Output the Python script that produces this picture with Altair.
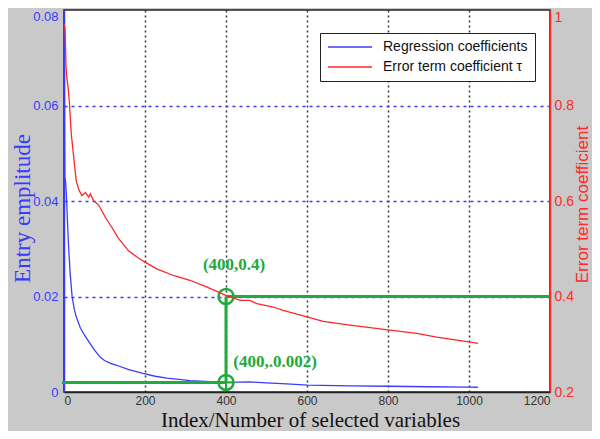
import altair as alt
import pandas as pd

# ---- data ----
reg_idx = [0, 1, 2, 4, 6, 8, 11, 15, 20, 25, 30, 40, 50, 64, 75, 89, 100, 115, 130, 160,
           195, 225, 254, 290, 311, 350, 400, 459, 500, 550, 602, 706, 800, 900, 1000, 1022]
reg_val = [0.077, 0.068, 0.045, 0.044, 0.041, 0.037, 0.031, 0.025, 0.020, 0.0175, 0.0158,
           0.0135, 0.012, 0.0102, 0.0088, 0.0073, 0.0066, 0.006, 0.0056, 0.0047, 0.0039,
           0.0033, 0.0029, 0.0026, 0.0024, 0.0022, 0.002, 0.0021, 0.0019, 0.0017, 0.00146,
           0.0013, 0.0012, 0.0011, 0.001, 0.001]

err_idx = [0, 2, 3, 5, 7, 10, 13, 18, 24, 30, 36, 44, 53, 61, 65, 73, 86, 102, 118, 135,
           160, 188, 200, 229, 270, 311, 352, 398, 435, 459, 476, 517, 541, 602, 640, 706,
           800, 871, 920, 1000, 1022]
err_val = [0.97, 0.965, 0.949, 0.88, 0.859, 0.838, 0.81, 0.74, 0.692, 0.643, 0.625, 0.611,
           0.618, 0.608, 0.615, 0.601, 0.591, 0.566, 0.545, 0.521, 0.495, 0.478, 0.472,
           0.458, 0.444, 0.434, 0.42, 0.403, 0.392, 0.392, 0.385, 0.378, 0.371, 0.357,
           0.348, 0.34, 0.33, 0.323, 0.315, 0.305, 0.302]

series_names = ["Regression coefficients", "Error term coefficient \u03c4"]
series_colors = ["#3c3cff", "#ff2626"]

x_ticks = [0, 200, 400, 600, 800, 1000, 1200]
left_ticks = [0, 0.02, 0.04, 0.06, 0.08]
right_ticks = [0.2, 0.4, 0.6, 0.8, 1]

# annotation (green) values
mark_x = 400
mark_low = 0.002
mark_high = 0.02
ann_text = ["(400,0.4)", "(400,.0.002)"]
ann_x = [420, 521]
ann_y = [0.0265, 0.0062]

BLUE = "#3a3aff"
RED = "#ff2a2a"
GREEN = "#22aa3a"

reg_df = pd.DataFrame({"idx": reg_idx, "v": reg_val, "series": series_names[0]})
err_df = pd.DataFrame({"idx": err_idx, "r": err_val, "series": series_names[1]})

x_scale = alt.Scale(domain=[0, 1200], nice=False, zero=False)
y_left_scale = alt.Scale(domain=[0, 0.08], nice=False)

x_axis = alt.Axis(
    values=x_ticks, format="d", title="Index/Number of selected variables",
    titleFont="Liberation Serif", titleFontSize=21, titleFontWeight="normal",
    titleColor="#111111", titleX=246, titleY=34, titleBaseline="alphabetic",
    labelFont="Liberation Sans", labelFontSize=12, labelColor="#333333",
    labelPadding=3, ticks=False, domainColor="#222222", domainWidth=1.5,
    grid=True, gridColor="#222222", gridDash=[2, 3], gridWidth=1.5,
    gridOpacity=alt.condition("datum.value < 1 || datum.value > 1199", alt.value(0), alt.value(0.9)),
)

y_left_axis = alt.Axis(
    values=left_ticks, format="~g", title="Entry emplitude",
    titleFont="Liberation Serif", titleFontSize=23, titleFontWeight="normal",
    titleColor=BLUE, titleAngle=270, titleX=-35, titleY=198, titleBaseline="alphabetic",
    labelFont="Liberation Sans", labelFontSize=13, labelColor=BLUE, labelPadding=6,
    labelBaseline=alt.condition("datum.value > 0.07", alt.value("top"), alt.value("middle")),
    ticks=False, domainColor=BLUE, domainWidth=1.5,
    grid=True, gridColor=BLUE, gridDash=[3, 4], gridWidth=1.5,
    gridOpacity=alt.condition("datum.value < 0.01 || datum.value > 0.07", alt.value(0), alt.value(1)),
)

y_right_axis = alt.Axis(
    orient="right", values=right_ticks, format="~g", title="Error term coefficient",
    titleFont="Liberation Sans", titleFontSize=17, titleFontWeight="normal",
    titleColor=RED, titleAngle=270, titleX=37, titleY=194, titleBaseline="alphabetic",
    labelFont="Liberation Sans", labelFontSize=14, labelColor=RED, labelPadding=4,
    labelBaseline=alt.condition("datum.value > 0.99", alt.value("top"), alt.value("middle")),
    ticks=False, domainColor=RED, domainWidth=1.5, grid=False,
)

color_enc = alt.Color(
    "series:N",
    scale=alt.Scale(domain=series_names, range=series_colors),
    title=None,
    legend=alt.Legend(
        orient="none", legendX=256, legendY=23, direction="vertical",
        fillColor="white", strokeColor="#222222", padding=7,
        symbolType="stroke", symbolSize=1936, symbolStrokeWidth=1.5,
        labelFont="Liberation Sans", labelFontSize=14, labelColor="#111111",
        labelOffset=10, rowPadding=6, clipHeight=14,
    ),
)

X = alt.X("idx:Q", scale=x_scale, axis=x_axis)

blue_line = alt.Chart(reg_df).mark_line(strokeWidth=1.3, clip=False).encode(
    x=X, y=alt.Y("v:Q", scale=y_left_scale, axis=y_left_axis), color=color_enc
)

ann_df = pd.DataFrame({
    "x1": [-5, mark_x, mark_x],
    "x2": [mark_x, mark_x, 1200],
    "y1": [mark_low, mark_low, mark_high],
    "y2": [mark_low, mark_high, mark_high],
})
green_rules = alt.Chart(ann_df).mark_rule(color=GREEN, strokeWidth=3).encode(
    x=alt.X("x1:Q", scale=x_scale, axis=x_axis), x2="x2:Q",
    y=alt.Y("y1:Q", scale=y_left_scale, axis=y_left_axis), y2="y2:Q",
)

pt_df = pd.DataFrame({"px": [mark_x, mark_x], "py": [mark_high, mark_low]})
green_circles = alt.Chart(pt_df).mark_point(
    shape="circle", size=225, filled=False, stroke=GREEN, strokeWidth=2.5, opacity=1
).encode(
    x=alt.X("px:Q", scale=x_scale, axis=x_axis),
    y=alt.Y("py:Q", scale=y_left_scale, axis=y_left_axis),
)
cross_df = pd.DataFrame({"px": [mark_x], "py": [mark_low]})
green_cross = alt.Chart(cross_df).mark_point(
    shape="M-1,0H1M0,-1V1", size=225, filled=False, stroke=GREEN, strokeWidth=2, opacity=1
).encode(
    x=alt.X("px:Q", scale=x_scale, axis=x_axis),
    y=alt.Y("py:Q", scale=y_left_scale, axis=y_left_axis),
)

txt_df = pd.DataFrame({"tx": ann_x, "ty": ann_y, "t": ann_text})
green_text = alt.Chart(txt_df).mark_text(
    font="Liberation Serif", fontSize=17, fontWeight="bold", color=GREEN, baseline="middle"
).encode(
    x=alt.X("tx:Q", scale=x_scale, axis=x_axis),
    y=alt.Y("ty:Q", scale=y_left_scale, axis=y_left_axis),
    text="t:N",
)

left_layer = alt.layer(blue_line, green_rules, green_circles, green_cross, green_text)

red_line = alt.Chart(err_df).mark_line(strokeWidth=1.3, clip=False).encode(
    x=X,
    y=alt.Y("r:Q", scale=alt.Scale(domain=[0.2, 1], nice=False, zero=False), axis=y_right_axis),
    color=color_enc,
)

chart = alt.layer(left_layer, red_line).resolve_scale(y="independent").properties(
    width=486, height=382,
    background="#c9c9c9",
    autosize=alt.AutoSizeParams(type="none"),
    padding={"left": 56, "top": 2, "right": 42, "bottom": 39},
).configure_view(fill="white", stroke="#222222", strokeWidth=1.5)

chart.save("out.html", embed_options={"renderer": "svg", "actions": False})
